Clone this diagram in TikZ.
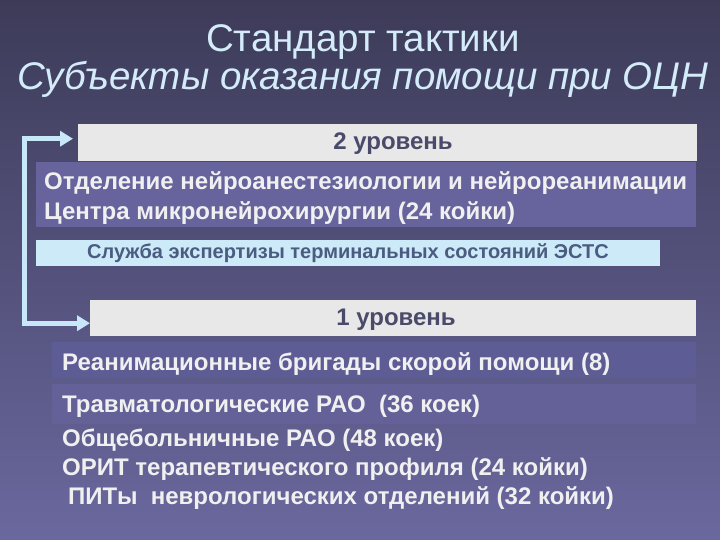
\documentclass[tikz,border=0pt]{standalone}
\usepackage{fontspec}
\setmainfont{Liberation Sans}
\usetikzlibrary{arrows.meta,calc}
\definecolor{bgtop}{HTML}{3D3B58}
\definecolor{bgbot}{HTML}{6A689E}
\definecolor{titlec}{HTML}{D4ECFA}
\definecolor{lvlfill}{HTML}{E8E8E8}
\definecolor{lvltext}{HTML}{4A4A6A}
\definecolor{deptfill}{HTML}{67639C}
\definecolor{svcfill}{HTML}{CDEAF9}
\definecolor{svctext}{HTML}{4B5C80}
\definecolor{itemfill}{HTML}{5E5C94}
\definecolor{bodytext}{HTML}{F0F0F0}
\definecolor{arrowc}{HTML}{C8E8FA}
\begin{document}
\begin{tikzpicture}[x=1pt,y=-1pt,
  titlestyle/.style={text=titlec,font=\fontsize{38.5}{40}\selectfont,inner sep=0pt},
  levelbox/.style={fill=lvlfill,inner sep=0pt,anchor=north west},
  leveltext/.style={text=lvltext,font=\fontsize{24}{26}\selectfont\bfseries,inner sep=0pt},
  deptbox/.style={fill=deptfill,inner sep=0pt,anchor=north west},
  svcbox/.style={fill=svcfill,inner sep=0pt,anchor=north west},
  svctextst/.style={text=svctext,font=\fontsize{20}{22}\selectfont\bfseries,inner sep=0pt},
  itembox/.style={fill=itemfill,inner sep=0pt,anchor=north west},
  bodyt/.style={text=bodytext,font=\fontsize{24}{26}\selectfont\bfseries,inner sep=0pt,anchor=base west},
  flow/.style={draw=arrowc,line width=5pt,{Triangle[width=15pt,length=13pt]}-{Triangle[width=15pt,length=13pt]}}
]
\shade[top color=bgtop,bottom color=bgbot] (0,0) rectangle (720,540);
\useasboundingbox (0,0) rectangle (720,540);

\node[titlestyle] (t1) at (363,42) {Стандарт тактики};
\node[titlestyle,font=\fontsize{38.5}{40}\selectfont\itshape] (t2) at (363,79) {Субъекты оказания помощи при ОЦН};

% level 2
\node[levelbox,minimum width=619pt,minimum height=37pt] (lvl2) at (78,124) {};
\node[leveltext] (lvl2t) at (393,144) {2 уровень};
\node[deptbox,minimum width=660pt,minimum height=65pt] (dept) at (36,162) {};
\node[bodyt] (d1) at (44,190) {Отделение нейроанестезиологии и нейрореанимации};
\node[bodyt] (d2) at (44,220) {Центра микронейрохирургии (24 койки)};
\node[svcbox,minimum width=624pt,minimum height=26pt] (svc) at (36,240) {};
\node[svctextst] (svct) at (348,253) {Служба экспертизы терминальных состояний ЭСТС};

% level 1
\node[levelbox,minimum width=606pt,minimum height=36pt] (lvl1) at (90,300) {};
\node[leveltext] (lvl1t) at (396,320) {1 уровень};
\node[itembox,minimum width=644pt,minimum height=36pt] (reb) at (52,342) {};
\node[bodyt] (r1) at (62,370) {Реанимационные бригады скорой помощи (8)};
\node[itembox,fill=itemfill!60!bgbot,minimum width=644pt,minimum height=40pt] (trb) at (52,384) {};
\node[bodyt] (i1) at (62,412) {Травматологические РАО\ \ (36 коек)};
\node[bodyt] (i2) at (62,446) {Общебольничные РАО (48 коек)};
\node[bodyt] (i3) at (62,475) {ОРИТ терапевтического профиля (24 койки)};
\node[bodyt] (i4) at (68,504) {ПИТы\ \ неврологических отделений (32 койки)};

% arrow
\coordinate (A) at ([shift={(-5,-4)}]lvl2.west);
\coordinate (B) at ([shift={(0,5)}]lvl1.west);
\coordinate (c) at (24.5,0);
\draw[flow] (A) -- (A -| c) -- (B -| c) -- (B);
\end{tikzpicture}
\end{document}
